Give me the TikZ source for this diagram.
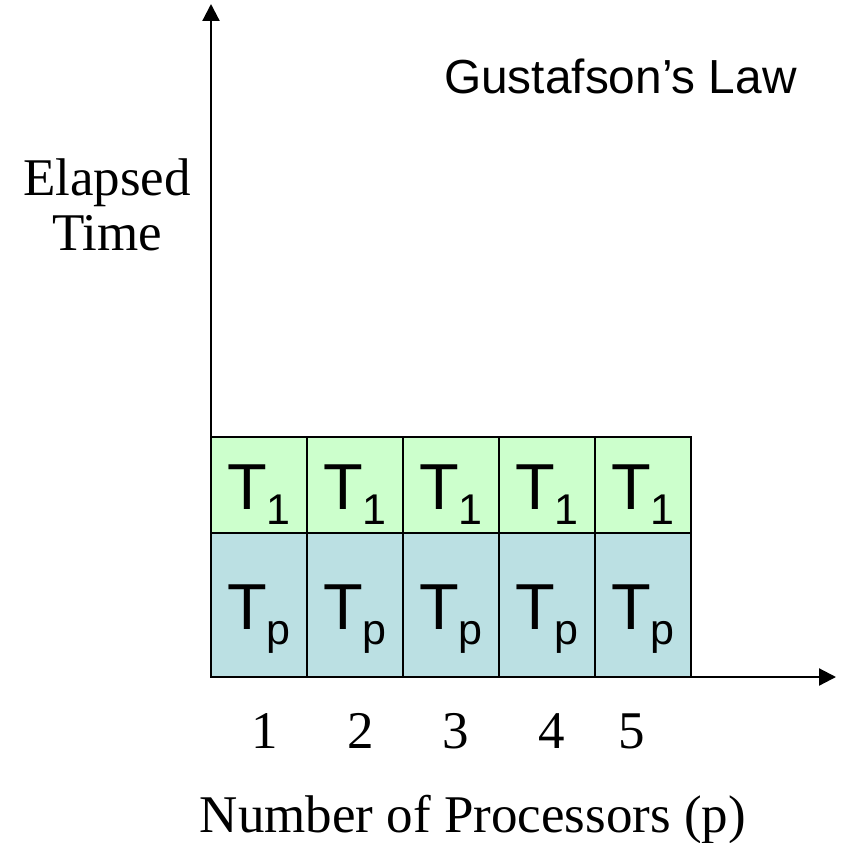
\documentclass[tikz,border=0pt]{standalone}
\usepackage{fontspec}
\setmainfont{Liberation Serif}
\newfontfamily\arialfont{Liberation Sans}
\usetikzlibrary{arrows.meta}
\definecolor{serialgreen}{HTML}{CCFFCC}
\definecolor{parblue}{HTML}{BBE0E3}
\newcommand{\cellsub}[1]{\raisebox{-15.5pt}{\fontsize{43}{43}\selectfont #1}}
\tikzset{
  axis/.style={line width=2.2pt, -{Triangle[length=17pt,width=17pt]}},
  cellbox/.style={draw=black, line width=1.4pt, minimum width=96pt, inner sep=0pt, outer sep=0pt},
  serialcell/.style={cellbox, fill=serialgreen, minimum height=96pt},
  parcell/.style={cellbox, fill=parblue, minimum height=144pt},
  celltext/.style={anchor=base, inner sep=0pt, font=\arialfont\fontsize{65}{65}\selectfont},
  serif53/.style={anchor=base, inner sep=0pt, font=\fontsize{53}{53}\selectfont},
}
\begin{document}
\begin{tikzpicture}[x=1pt,y=-1pt]
\useasboundingbox (0,0) rectangle (843,843);
% cells
\foreach \i in {1,...,5}{
  \pgfmathsetmacro{\cx}{259+96*(\i-1)}
  \node[parcell] (p\i) at (\cx,605) {};
  \node[serialcell] (s\i) at (\cx,485) {};
  \node[celltext] (ts\i) at (\cx,509) {T\cellsub{1}};
  \node[celltext] (tp\i) at (\cx,629) {T\cellsub{p}};
}
% axes
\coordinate (o) at (211,677);
\coordinate (ytop) at (211,4);
\coordinate (xend) at (836,677);
\draw[axis] (o) -- (ytop);
\draw[axis] (o) -- (xend);
% labels
\node[anchor=base west, inner sep=0pt, font=\arialfont\fontsize{47.8}{47.8}\selectfont] (title) at (444,93) {Gustafson’s Law};
\node[serif53] (ylab1) at (107,195) {Elapsed};
\node[serif53] (ylab2) at (107,250) {Time};
\node[serif53] (n1) at (265,748) {1};
\node[serif53] (n2) at (361,748) {2};
\node[serif53] (n3) at (456,748) {3};
\node[serif53] (n4) at (552,748) {4};
\node[serif53] (n5) at (632,748) {5};
\node[serif53] (xlab) at (473,832) {Number of Processors (p)};
\end{tikzpicture}
\end{document}
